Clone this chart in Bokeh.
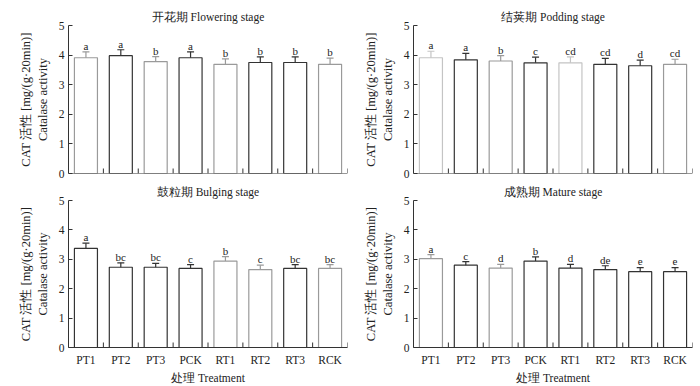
import math
from bokeh.plotting import figure
from bokeh.models import ColumnDataSource, Whisker, TeeHead, Range1d, FixedTicker, Span
from bokeh.layouts import column, row
from bokeh.embed import file_html
from bokeh.resources import INLINE
from bokeh.core.properties import value

treatments = ["PT1", "PT2", "PT3", "PCK", "RT1", "RT2", "RT3", "RCK"]
y_ticks = [0, 1, 2, 3, 4, 5]

flowering_mean = [3.91, 3.98, 3.78, 3.91, 3.69, 3.75, 3.75, 3.69]
flowering_err = [0.20, 0.20, 0.17, 0.20, 0.18, 0.19, 0.19, 0.21]
flowering_sig = ["a", "a", "b", "a", "b", "b", "b", "b"]

podding_mean = [3.91, 3.84, 3.80, 3.74, 3.74, 3.69, 3.64, 3.69]
podding_err = [0.22, 0.22, 0.18, 0.19, 0.20, 0.20, 0.19, 0.17]
podding_sig = ["a", "a", "b", "c", "cd", "cd", "d", "cd"]

bulging_mean = [3.37, 2.73, 2.73, 2.69, 2.94, 2.65, 2.69, 2.69]
bulging_err = [0.18, 0.15, 0.13, 0.13, 0.15, 0.15, 0.13, 0.13]
bulging_sig = ["a", "bc", "bc", "c", "b", "c", "bc", "bc"]

mature_mean = [3.02, 2.80, 2.70, 2.94, 2.70, 2.65, 2.58, 2.58]
mature_err = [0.14, 0.12, 0.13, 0.14, 0.13, 0.13, 0.14, 0.14]
mature_sig = ["a", "c", "d", "b", "d", "de", "e", "e"]

# outline tones (style only) imitating the scanned rendering
TONE = {"k": "#333333", "g": "#9a9a9a", "l": "#c4c4c4"}
flowering_tone = ["g", "k", "g", "k", "g", "k", "k", "g"]
podding_tone = ["l", "k", "g", "k", "l", "k", "k", "g"]
bulging_tone = ["k", "k", "k", "k", "g", "g", "k", "g"]
mature_tone = ["g", "k", "g", "k", "k", "k", "k", "k"]

FONT = "Liberation Serif"
TXT = "#222222"
AX = "#333333"


def panel(title, means, errs, sigs, tones, bottom, left):
    width = 360 if left else 340
    height = 206 if bottom else 180
    p = figure(x_range=treatments, y_range=Range1d(0, 5), width=width, height=height,
               output_backend="svg", toolbar_location=None,
               min_border_left=68 if left else 52,
               min_border_right=13 if left else 8,
               min_border_top=20 if bottom else 25,
               min_border_bottom=38 if bottom else 7)
    src = ColumnDataSource(dict(
        x=treatments, top=means,
        upper=[m + e for m, e in zip(means, errs)],
        lower=[m - e for m, e in zip(means, errs)],
        sig=sigs, color=[TONE[t] for t in tones]))
    p.vbar(x="x", top="top", width=0.66, source=src, fill_color="white",
           line_color="color", line_width=1.2)
    w = Whisker(base="x", upper="upper", lower="lower", source=src,
                line_color="color", line_width=1.2,
                upper_head=TeeHead(size=7, line_color="color", line_width=1.2),
                lower_head=TeeHead(size=7, line_color="color", line_width=1.2))
    p.add_layout(w)
    p.text(x="x", y="upper", text="sig", source=src, text_align="center",
           text_baseline="alphabetic", y_offset=-6, text_color=TXT,
           text_font=value(FONT), text_font_size=value("11px"))
    # category boundary ticks pointing inward
    bounds = list(range(1, len(treatments) + 1))
    p.ray(x=bounds, y=[0] * len(bounds), length=5, angle=math.pi / 2,
          length_units="screen", line_color=AX, line_width=1)

    p.title.text = title
    p.title.align = "center"
    p.title.text_font = FONT
    p.title.text_font_size = "11.5px"
    p.title.text_font_style = "normal"
    p.title.text_color = TXT
    p.title.standoff = 5
    p.title.offset = 0

    p.xgrid.grid_line_color = None
    p.ygrid.grid_line_color = None
    p.outline_line_color = None

    ya = p.yaxis[0]
    ya.ticker = FixedTicker(ticks=y_ticks)
    ya.major_tick_in = 4
    ya.major_tick_out = 0
    ya.minor_tick_line_color = None
    ya.axis_line_color = AX
    ya.major_tick_line_color = AX
    ya.major_label_text_font = FONT
    ya.major_label_text_font_size = "11.5px"
    ya.major_label_text_color = TXT
    ya.major_label_standoff = 4
    ya.axis_label = "CAT 活性 [mg/(g·20min)]\nCatalase activity"
    ya.axis_label_text_font = FONT
    ya.axis_label_text_font_size = "12.5px"
    ya.axis_label_text_font_style = "normal"
    ya.axis_label_text_color = TXT
    ya.axis_label_standoff = 6

    xa = p.xaxis[0]
    if bottom:
        xa.axis_line_color = AX
        xa.major_tick_line_color = None
        xa.minor_tick_line_color = None
        xa.major_tick_out = 0
        xa.major_tick_in = 0
        xa.major_label_text_font = FONT
        xa.major_label_text_font_size = "11.5px"
        xa.major_label_text_color = TXT
        xa.major_label_standoff = 6
        xa.axis_label = "处理 Treatment"
        xa.axis_label_text_font = FONT
        xa.axis_label_text_font_size = "11.5px"
        xa.axis_label_text_font_style = "normal"
        xa.axis_label_text_color = TXT
        xa.axis_label_standoff = 3
    else:
        xa.visible = False
        p.add_layout(Span(location=0, dimension="width", line_color=AX, line_width=1))
    return p


p1 = panel("开花期 Flowering stage", flowering_mean, flowering_err, flowering_sig, flowering_tone, False, True)
p2 = panel("结荚期 Podding stage", podding_mean, podding_err, podding_sig, podding_tone, False, False)
p3 = panel("鼓粒期 Bulging stage", bulging_mean, bulging_err, bulging_sig, bulging_tone, True, True)
p4 = panel("成熟期 Mature stage", mature_mean, mature_err, mature_sig, mature_tone, True, False)

layout = column(row(p1, p2), row(p3, p4))
open("out.html", "w").write(file_html(layout, INLINE))
